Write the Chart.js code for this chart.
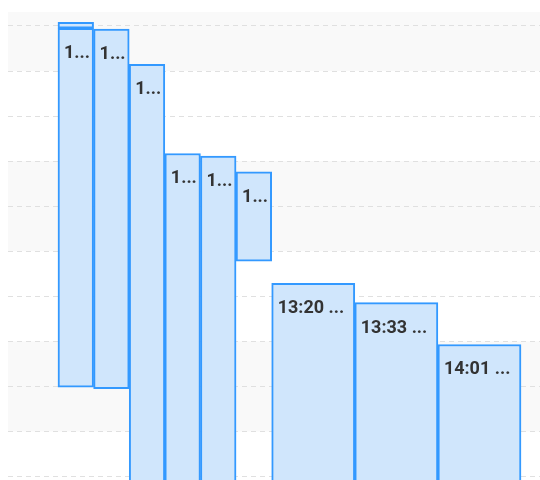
<!DOCTYPE html>
<html>
<head>
<meta charset="utf-8">
<script src="https://cdn.jsdelivr.net/npm/chart.js@4"></script>
<style>
  html, body { margin: 0; padding: 0; background: #fff; }
  #wrap { width: 540px; height: 480px; }
</style>
</head>
<body>
<div id="wrap"><canvas id="chart" width="540" height="480"></canvas></div>
<script>
// blocks: x in column units, y in grid units
const labels = ['10:02 Sync', '10:05 Standup', '10:06 Triage', '10:30 Planning', '11:15 Review',
  '11:20 Support', '11:40 Lunch', '13:20 Design sync', '13:33 Client call', '14:01 Retro'];
const xFrom = [0, 0, 3, 6, 9, 12, 15, 18, 25, 32];
const xTo = [3, 3, 6, 9, 12, 15, 18, 25, 32, 39];
const yFrom = [9.95, 1.98, 1.95, -1, -1, -1, 4.78, -1, -1, -1];
const yTo = [10.08, 9.95, 9.93, 9.15, 7.17, 7.11, 6.76, 4.29, 3.86, 2.93];

// alternate grey bands, every other pair of grid rows
const bands = {
  id: 'bands',
  beforeDraw(chart) {
    const { ctx, chartArea: a, scales: { y } } = chart;
    ctx.save();
    ctx.fillStyle = '#f9f9f9';
    y.ticks.forEach(t => {
      if (((t.value % 4) + 4) % 4 !== 1) return;
      const top = Math.max(a.top, y.getPixelForValue(t.value + 2));
      const bottom = Math.min(a.bottom, y.getPixelForValue(t.value));
      if (bottom > top) ctx.fillRect(a.left, top, a.width, bottom - top);
    });
    ctx.restore();
  }
};

// label in the top-left corner of each block, cut with "..."
const barLabels = {
  id: 'barLabels',
  afterDatasetsDraw(chart) {
    const { ctx, chartArea: a } = chart;
    ctx.save();
    ctx.beginPath();
    ctx.rect(a.left, a.top, a.width, a.height);
    ctx.clip();
    ctx.font = 'bold 18px Roboto';
    ctx.fillStyle = '#333';
    ctx.textBaseline = 'alphabetic';
    chart.data.datasets.forEach((ds, i) => {
      const bar = chart.getDatasetMeta(i).data[0];
      const top = Math.min(bar.y, bar.base);
      if (Math.abs(bar.base - bar.y) < 36) return;
      const left = bar.x - bar.width / 2;
      const room = bar.width - 12;
      let text = labels[i];
      if (ctx.measureText(text).width > room) {
        let n = text.length;
        while (n > 1 && ctx.measureText(text.slice(0, n) + '...').width > room) n--;
        text = text.slice(0, n) + '...';
      }
      ctx.fillText(text, left + 6, top + 30);
    });
    ctx.restore();
  }
};

const datasets = labels.map((l, i) => ({
  label: l,
  data: [{ x: (xFrom[i] + xTo[i]) / 2, y: [yFrom[i], yTo[i]] }],
  backgroundColor: '#d0e6fc',
  borderColor: 'rgb(51, 153, 255)',
  borderWidth: 2,
  borderSkipped: false,
  barThickness: ctx => {
    const x = ctx.chart.scales.x;
    if (!x) return 1;
    return Math.abs(x.getPixelForValue(xTo[ctx.datasetIndex]) - x.getPixelForValue(xFrom[ctx.datasetIndex])) || 1;
  }
}));

new Chart(document.getElementById('chart'), {
  type: 'bar',
  data: { datasets },
  options: {
    responsive: false,
    animation: false,
    layout: { padding: { top: 12, left: 8, right: 0, bottom: 0 } },
    plugins: { legend: { display: false }, tooltip: { enabled: false } },
    scales: {
      x: { type: 'linear', min: -4.21, max: 40.6, offset: false, stacked: true, display: false },
      y: {
        min: -0.078,
        max: 10.31,
        ticks: { display: false, stepSize: 1, includeBounds: false },
        grid: { color: '#e0e0e0', drawTicks: false },
        border: { display: false, dash: [5, 4] }
      }
    }
  },
  plugins: [bands, barLabels]
});
</script>
</body>
</html>
